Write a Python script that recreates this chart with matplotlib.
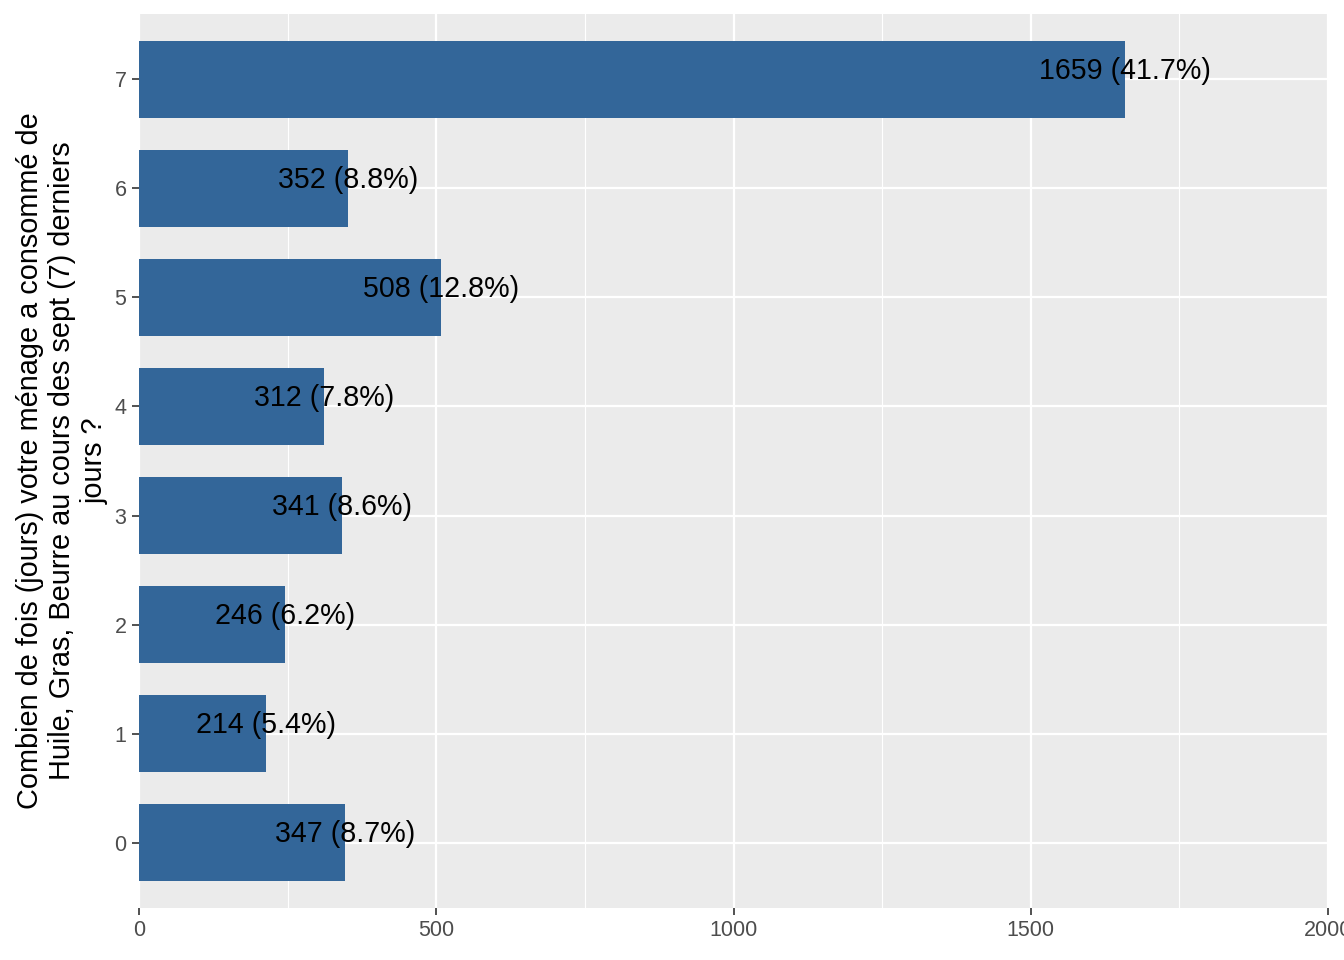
import matplotlib
matplotlib.use("Agg")
import matplotlib.pyplot as plt
from matplotlib.ticker import MultipleLocator

categories = ["0", "1", "2", "3", "4", "5", "6", "7"]
counts = [347, 214, 246, 341, 312, 508, 352, 1659]
percents = ["8.7%", "5.4%", "6.2%", "8.6%", "7.8%", "12.8%", "8.8%", "41.7%"]
x_ticks = [0, 500, 1000, 1500, 2000]
ylabel = ("Combien de fois (jours) votre ménage a consommé de\n"
          "Huile, Gras, Beurre au cours des sept (7) derniers\njours ?")

plt.rcParams['font.family'] = ['Liberation Sans', 'DejaVu Sans']

fig = plt.figure(figsize=(13.44, 9.6), dpi=100)
ax = fig.add_axes([139/1344, 52/960, (1328-139)/1344, (908-14)/960])
ax.set_facecolor('#EBEBEB')

ypos = list(range(len(categories)))
ax.barh(ypos, counts, height=0.7, color='#336699', zorder=3)
for y, c, p in zip(ypos, counts, percents):
    ax.text(c, y + 0.08, f"{c} ({p})", ha='center', va='center',
            fontsize=20.6, color='black', zorder=4)

ax.set_xlim(0, 2000)
ax.set_ylim(-0.6, 7.6)
ax.set_xticks(x_ticks)
ax.set_xticklabels([str(t) for t in x_ticks])
ax.xaxis.set_minor_locator(MultipleLocator(250))
ax.set_yticks(ypos)
ax.set_yticklabels(categories)

ax.grid(which='major', axis='both', color='white', linewidth=1.6, zorder=1)
ax.grid(which='minor', axis='x', color='white', linewidth=0.8, zorder=1)
ax.set_axisbelow(True)
for s in ax.spines.values():
    s.set_visible(False)

ax.tick_params(axis='both', which='major', length=5, width=1.2, color='#333333',
               labelsize=15.5, labelcolor='#4D4D4D', pad=4)
ax.tick_params(axis='both', which='minor', length=0)

ax.set_ylabel(ylabel, fontsize=20.8, color='black', linespacing=1.2, labelpad=4)

fig.savefig('out.png', dpi=100)
